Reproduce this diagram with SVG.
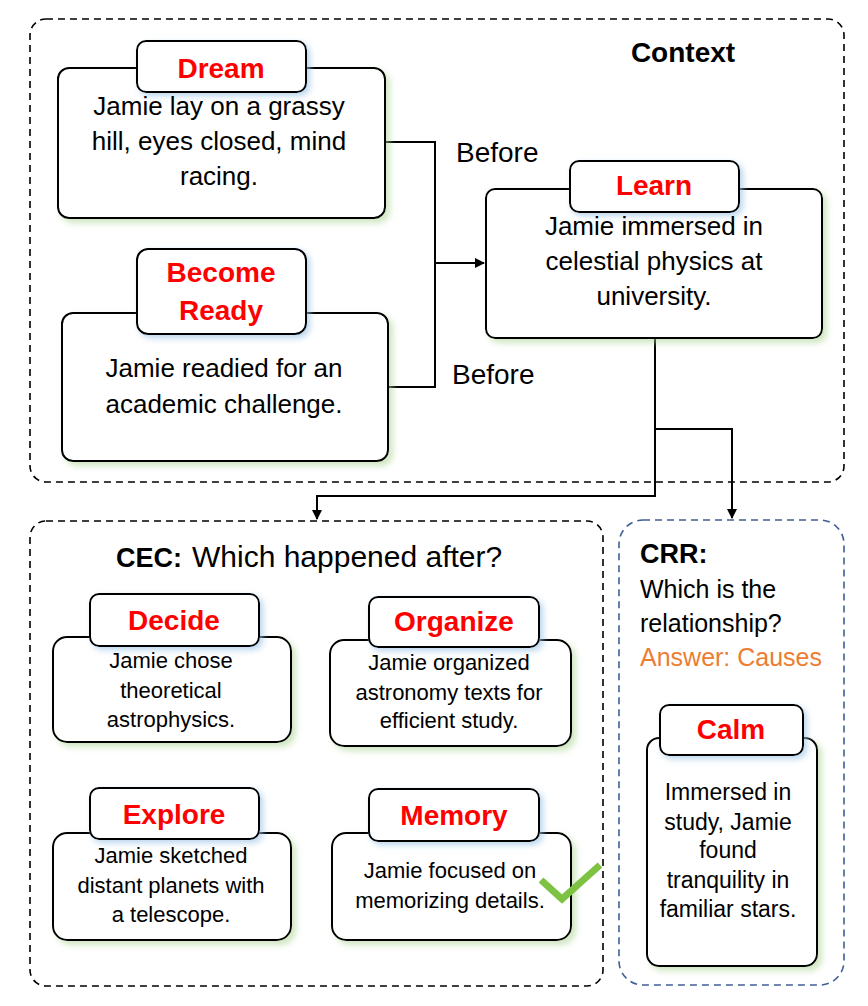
<svg xmlns="http://www.w3.org/2000/svg" width="868" height="1006" viewBox="0 0 868 1006">
<defs>
<style>
text{font-family:"Liberation Sans",Arial,sans-serif;}
.box{fill:#fff;stroke:#000;stroke-width:2;filter:url(#gs);}
.tab{fill:#fff;stroke:#000;stroke-width:2;filter:url(#bs);}
.lbl{fill:#ff0000;font-weight:bold;font-size:28px;text-anchor:middle;}
.b1{fill:#000;font-size:26px;text-anchor:middle;}
.b2{fill:#000;font-size:22px;text-anchor:middle;}
.b3{fill:#000;font-size:23px;text-anchor:middle;}
.grp{fill:none;stroke:#000;stroke-width:1.6;stroke-dasharray:7 5;}
.grpb{fill:none;stroke:#3f5f96;stroke-width:1.6;stroke-dasharray:7 5;}
.con{fill:none;stroke:#000;stroke-width:2;}
</style>
<filter id="gs" x="-10%" y="-10%" width="125%" height="130%">
<feDropShadow dx="4" dy="4" stdDeviation="3" flood-color="#a9d18e" flood-opacity="0.55"/>
</filter>
<filter id="bs" x="-10%" y="-10%" width="125%" height="140%">
<feDropShadow dx="3" dy="3" stdDeviation="3" flood-color="#9dc3e6" flood-opacity="0.7"/>
</filter>
<marker id="ah" markerWidth="10" markerHeight="10" refX="9" refY="5" orient="auto" markerUnits="userSpaceOnUse">
<path d="M0,0 L10,5 L0,10 Z" fill="#000"/>
</marker>
</defs>
<rect width="868" height="1006" fill="#fff"/>

<g id="context-group">
<rect class="grp" x="30" y="19" width="814" height="463" rx="16"/>
<text x="683" y="62" font-size="28" font-weight="bold" text-anchor="middle">Context</text>
</g>

<g id="cec-group">
<rect class="grp" x="30" y="521" width="573" height="465" rx="16"/>
<text x="116" y="567" font-size="27" font-weight="bold">CEC:</text>
<text x="192" y="567" font-size="30">Which happened after?</text>
</g>

<g id="crr-group">
<rect class="grpb" x="619" y="520" width="225" height="465" rx="24"/>
<text x="640" y="563" font-size="27" font-weight="bold">CRR:</text>
<text x="640" y="598" font-size="25">Which is the</text>
<text x="640" y="632" font-size="25">relationship?</text>
<text x="640" y="666" font-size="25" fill="#ed7d31">Answer: Causes</text>
</g>

<g id="connectors">
<path class="con" d="M385,142 H435 V387 H388"/>
<path class="con" d="M435,263 H484" marker-end="url(#ah)"/>
<path class="con" d="M655,338 V496 H317 V519" marker-end="url(#ah)"/>
<path class="con" d="M655,429 H732 V518" marker-end="url(#ah)"/>
<text x="456" y="162" font-size="28">Before</text>
<text x="452" y="384" font-size="28">Before</text>
</g>

<g id="dream">
<rect class="box" x="58" y="68" width="327" height="150" rx="11"/>
<rect class="tab" x="137" y="41" width="169" height="51" rx="9"/>
<text class="lbl" x="221" y="78">Dream</text>
<text class="b1" x="219" y="115">Jamie lay on a grassy</text>
<text class="b1" x="219" y="150">hill, eyes closed, mind</text>
<text class="b1" x="219" y="185">racing.</text>
</g>

<g id="become-ready">
<rect class="box" x="62" y="313" width="326" height="148" rx="11"/>
<rect class="tab" x="137" y="249" width="169" height="85" rx="11"/>
<text class="lbl" x="221" y="282">Become</text>
<text class="lbl" x="221" y="320">Ready</text>
<text class="b1" x="224" y="377">Jamie readied for an</text>
<text class="b1" x="224" y="413">academic challenge.</text>
</g>

<g id="learn">
<rect class="box" x="486" y="189" width="336" height="149" rx="9"/>
<rect class="tab" x="570" y="161" width="169" height="51" rx="9"/>
<text class="lbl" x="654" y="195">Learn</text>
<text class="b1" x="654" y="235">Jamie immersed in</text>
<text class="b1" x="654" y="270">celestial physics at</text>
<text class="b1" x="654" y="305">university.</text>
</g>

<g id="decide">
<rect class="box" x="53" y="637" width="238" height="105" rx="14"/>
<rect class="tab" x="90" y="594" width="169" height="52" rx="9"/>
<text class="lbl" x="174" y="630">Decide</text>
<text class="b2" x="171" y="668">Jamie chose</text>
<text class="b2" x="171" y="698">theoretical</text>
<text class="b2" x="171" y="727">astrophysics.</text>
</g>

<g id="organize">
<rect class="box" x="330" y="640" width="241" height="106" rx="14"/>
<rect class="tab" x="369" y="597" width="170" height="50" rx="9"/>
<text class="lbl" x="454" y="631">Organize</text>
<text class="b2" x="449" y="670">Jamie organized</text>
<text class="b2" x="449" y="700">astronomy texts for</text>
<text class="b2" x="449" y="728">efficient study.</text>
</g>

<g id="explore">
<rect class="box" x="53" y="833" width="238" height="107" rx="14"/>
<rect class="tab" x="90" y="788" width="169" height="51" rx="9"/>
<text class="lbl" x="174" y="824">Explore</text>
<text class="b2" x="171" y="863">Jamie sketched</text>
<text class="b2" x="171" y="893">distant planets with</text>
<text class="b2" x="171" y="922">a telescope.</text>
</g>

<g id="memory">
<rect class="box" x="332" y="833" width="239" height="107" rx="14"/>
<rect class="tab" x="369" y="789" width="170" height="52" rx="9"/>
<text class="lbl" x="454" y="825">Memory</text>
<text class="b2" x="450" y="878">Jamie focused on</text>
<text class="b2" x="450" y="908">memorizing details.</text>
<path d="M541,880 L562,899 L600,865" fill="none" stroke="#7dc242" stroke-width="7" stroke-linejoin="miter"/>
</g>

<g id="calm">
<rect class="box" x="647" y="738" width="170" height="228" rx="12"/>
<rect class="tab" x="660" y="705" width="143" height="50" rx="9"/>
<text class="lbl" x="731" y="739">Calm</text>
<text class="b3" x="728" y="800">Immersed in</text>
<text class="b3" x="728" y="830">study, Jamie</text>
<text class="b3" x="728" y="858">found</text>
<text class="b3" x="728" y="888">tranquility in</text>
<text class="b3" x="728" y="917">familiar stars.</text>
</g>
</svg>
